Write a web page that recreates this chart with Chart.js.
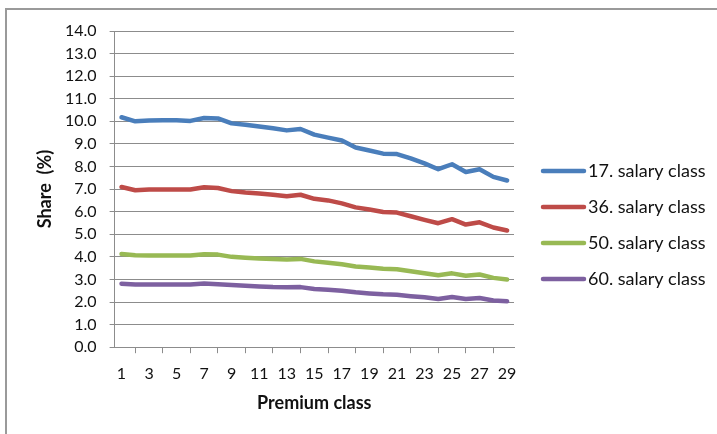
<!DOCTYPE html>
<html>
<head>
<meta charset="utf-8">
<script src="https://cdn.jsdelivr.net/npm/chart.js@4/dist/chart.umd.min.js"></script>
<style>
  html, body { margin: 0; padding: 0; background: #fff; }
  #wrap { position: relative; width: 717px; height: 434px; overflow: hidden; }
  #frame { position: absolute; left: 5px; top: 8px; right: -10px; bottom: -10px;
           border-left: 2px solid #9a9a9a; border-top: 2px solid #9a9a9a; pointer-events: none; }
  canvas { position: absolute; left: 0; top: 0; }
</style>
</head>
<body>
<div id="wrap">
  <canvas id="chart" width="717" height="434"></canvas>
  <div id="frame"></div>
</div>
<script>
// Premium classes 1..29
const premiumClasses = ['1','2','3','4','5','6','7','8','9','10','11','12','13','14','15',
  '16','17','18','19','20','21','22','23','24','25','26','27','28','29'];

const seriesNames = ['17. salary class', '36. salary class', '50. salary class', '60. salary class'];
const seriesColors = ['#4a7ebb', '#be4b48', '#98b954', '#7d60a0'];

// Share (%) per premium class
const salary17 = [10.18, 10.00, 10.04, 10.05, 10.05, 10.02, 10.15, 10.13, 9.91, 9.85, 9.77, 9.69, 9.60, 9.66, 9.41,
  9.28, 9.15, 8.84, 8.71, 8.57, 8.55, 8.36, 8.14, 7.88, 8.10, 7.76, 7.88, 7.54, 7.38];
const salary36 = [7.09, 6.95, 6.98, 6.98, 6.98, 6.98, 7.08, 7.05, 6.91, 6.85, 6.81, 6.75, 6.68, 6.75, 6.57,
  6.50, 6.37, 6.19, 6.10, 5.99, 5.96, 5.80, 5.64, 5.49, 5.67, 5.43, 5.53, 5.30, 5.17];
const salary50 = [4.13, 4.07, 4.06, 4.06, 4.06, 4.06, 4.12, 4.10, 4.00, 3.96, 3.93, 3.91, 3.88, 3.91, 3.80,
  3.74, 3.67, 3.57, 3.53, 3.47, 3.45, 3.36, 3.27, 3.19, 3.27, 3.16, 3.22, 3.07, 3.00];
const salary60 = [2.81, 2.78, 2.78, 2.78, 2.78, 2.78, 2.82, 2.79, 2.75, 2.72, 2.69, 2.66, 2.65, 2.66, 2.58,
  2.54, 2.50, 2.43, 2.38, 2.34, 2.32, 2.26, 2.21, 2.13, 2.22, 2.13, 2.18, 2.07, 2.03];

const seriesValues = [salary17, salary36, salary50, salary60];

const yMin = 0, yMax = 14, yStep = 1;
const FONT = 'Lato, "Liberation Sans", sans-serif';
const GRID = '#8c8c8c';
const TEXT = '#111';

// Legend drawn as a short thick line followed by the series name
const lineLegend = {
  id: 'lineLegend',
  afterDraw(chart, args, opts) {
    const { ctx, chartArea } = chart;
    ctx.save();
    ctx.font = opts.font;
    ctx.textBaseline = 'middle';
    ctx.textAlign = 'left';
    chart.data.datasets.forEach((ds, i) => {
      const x = chartArea.right + opts.offsetX;
      const y = chartArea.top + opts.firstY + i * opts.step;
      ctx.strokeStyle = ds.borderColor;
      ctx.lineWidth = opts.lineWidth;
      ctx.lineCap = 'round';
      ctx.beginPath();
      ctx.moveTo(x, y);
      ctx.lineTo(x + opts.length, y);
      ctx.stroke();
      ctx.fillStyle = opts.color;
      ctx.fillText(ds.label, x + opts.length + opts.gap, y);
    });
    ctx.restore();
  }
};

new Chart(document.getElementById('chart'), {
  type: 'line',
  data: {
    labels: premiumClasses,
    datasets: seriesNames.map((name, i) => ({
      label: name,
      data: seriesValues[i],
      borderColor: seriesColors[i],
      backgroundColor: seriesColors[i],
      borderWidth: 4.5,
      pointRadius: 0,
      pointHoverRadius: 0,
      tension: 0,
      fill: false,
      borderCapStyle: 'round',
      borderJoinStyle: 'round'
    }))
  },
  options: {
    responsive: false,
    animation: false,
    devicePixelRatio: 1,
    layout: { padding: { left: 30, right: 203, top: 31, bottom: 16 } },
    plugins: {
      legend: { display: false },
      tooltip: { enabled: false },
      lineLegend: {
        font: '18px ' + FONT,
        color: TEXT,
        offsetX: 29,
        firstY: 140,
        step: 36,
        length: 41,
        gap: 4,
        lineWidth: 4.5
      }
    },
    scales: {
      x: {
        type: 'category',
        offset: true,
        border: { display: true, color: GRID, width: 1 },
        grid: { display: true, offset: true, drawOnChartArea: false, drawTicks: true,
                tickLength: 6, color: GRID, tickColor: GRID },
        ticks: {
          autoSkip: false, maxRotation: 0, padding: 11, color: TEXT,
          font: { family: FONT, size: 16 },
          callback: (val, idx) => (idx % 2 === 0 ? premiumClasses[idx] : null)
        },
        title: { display: true, text: 'Premium class', color: TEXT,
                 font: { family: FONT, size: 18, weight: 'bold' }, padding: { top: -2, bottom: 4 } }
      },
      y: {
        min: yMin, max: yMax,
        border: { display: true, color: GRID, width: 1 },
        grid: { color: GRID, tickColor: GRID, tickLength: 5, lineWidth: 1 },
        ticks: {
          stepSize: yStep, padding: 13, color: TEXT,
          font: { family: FONT, size: 16 },
          callback: (v) => Number(v).toFixed(1)
        },
        title: { display: true, text: 'Share  (%)', color: TEXT,
                 font: { family: FONT, size: 18, weight: 'bold' }, padding: { top: 4, bottom: -3.6 } }
      }
    }
  },
  plugins: [lineLegend]
});
</script>
</body>
</html>
